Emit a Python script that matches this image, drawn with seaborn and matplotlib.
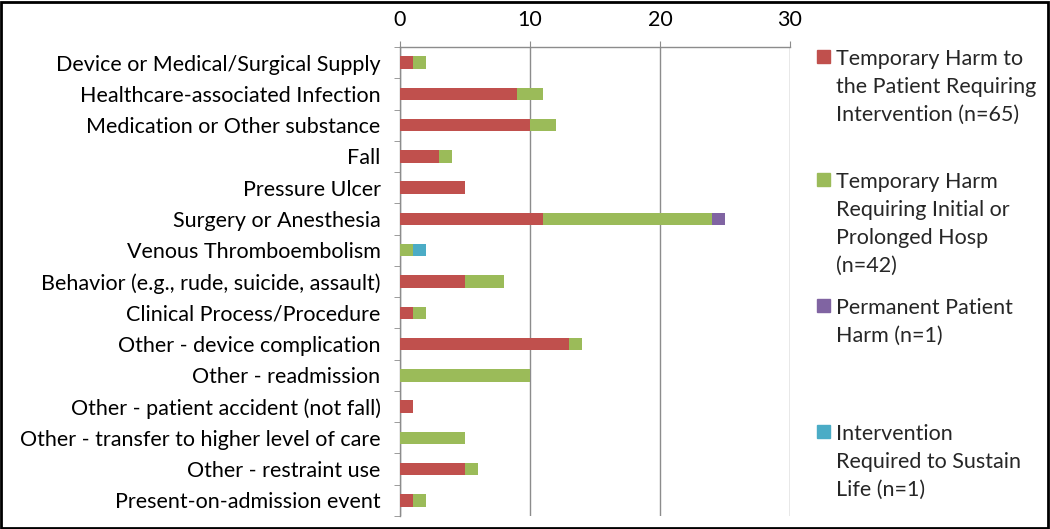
import pandas as pd
import matplotlib.pyplot as plt
from matplotlib.patches import Rectangle
import seaborn as sns

# -----------------------
# Data
# -----------------------
categories = [
    "Device or Medical/Surgical Supply",
    "Healthcare-associated Infection",
    "Medication or Other substance",
    "Fall",
    "Pressure Ulcer",
    "Surgery or Anesthesia",
    "Venous Thromboembolism",
    "Behavior (e.g., rude, suicide, assault)",
    "Clinical Process/Procedure",
    "Other - device complication",
    "Other - readmission",
    "Other - patient accident (not fall)",
    "Other - transfer to higher level of care",
    "Other - restraint use",
    "Present-on-admission event",
]
temp_intervention = [1, 9, 10, 3, 5, 11, 0, 5, 1, 13, 0, 1, 0, 5, 1]
temp_hosp = [1, 2, 2, 1, 0, 13, 1, 3, 1, 1, 10, 0, 5, 1, 1]
permanent = [0, 0, 0, 0, 0, 1, 0, 0, 0, 0, 0, 0, 0, 0, 0]
sustain_life = [0, 0, 0, 0, 0, 0, 1, 0, 0, 0, 0, 0, 0, 0, 0]

series_labels = [
    "Temporary Harm to\nthe Patient Requiring\nIntervention (n=65)",
    "Temporary Harm\nRequiring Initial or\nProlonged Hosp\n(n=42)",
    "Permanent Patient\nHarm (n=1)",
    "Intervention\nRequired to Sustain\nLife (n=1)",
]
colors = ["#C0504D", "#9BBB59", "#8064A2", "#4BACC6"]
xticks = [0, 10, 20, 30]

df = pd.DataFrame({
    "category": categories,
    "red": temp_intervention,
    "green": temp_hosp,
    "purple": permanent,
    "teal": sustain_life,
})
# cumulative totals for stacking (draw largest first, overlay smaller)
df["c1"] = df["red"]
df["c2"] = df["c1"] + df["green"]
df["c3"] = df["c2"] + df["purple"]
df["c4"] = df["c3"] + df["teal"]

sns.set_style("white")
plt.rcParams["font.family"] = ["Lato", "DejaVu Sans"]
FS = 15.5

W, H = 1050, 529
fig = plt.figure(figsize=(W / 100, H / 100), dpi=100)
ax = fig.add_axes([400 / W, 1 - 516 / H, 390 / W, (516 - 47) / H])

for col, c in zip(["c4", "c3", "c2", "c1"], colors[::-1]):
    sns.barplot(data=df, x=col, y="category", orient="h", color=c,
                saturation=1, width=0.4, linewidth=0, ax=ax, zorder=3)

ax.set_xlabel("")
ax.set_ylabel("")
ax.set_xlim(0, 30)
ax.set_ylim(len(categories) - 0.5, -0.5)
ax.xaxis.tick_top()
ax.set_xticks(xticks)
ax.set_xticklabels([str(t) for t in xticks])
ax.grid(axis="x", color="#8C8C8C", lw=1, zorder=0)
ax.grid(axis="y", visible=False)
ax.set_axisbelow(True)

for s in ["right", "bottom"]:
    ax.spines[s].set_visible(False)
for s in ["left", "top"]:
    ax.spines[s].set_color("#8C8C8C")
    ax.spines[s].set_linewidth(1)

ax.tick_params(axis="x", top=True, length=4, color="#8C8C8C", pad=8,
               labelsize=FS, labelcolor="black")
ax.set_yticks(range(len(categories)), minor=False)
ax.set_yticks([i - 0.5 for i in range(len(categories) + 1)], minor=True)
ax.tick_params(axis="y", which="major", length=0, pad=14, labelsize=FS,
               labelcolor="black")
ax.tick_params(axis="y", which="minor", left=True, length=4, color="#8C8C8C")

# legend, placed like the original
legend_y = [57, 180, 306, 432]
for lab, c, y in zip(series_labels, colors, legend_y):
    fig.patches.append(Rectangle((817 / W, 1 - (y + 6) / H), 13 / W, 13 / H,
                                 transform=fig.transFigure, color=c))
    fig.text(836 / W, 1 - (y - 8) / H, lab, fontsize=FS, va="top",
             ha="left", linespacing=1.49)

# outer frame
fig.patches.append(Rectangle((0.001, 0.002), 0.997, 0.995, transform=fig.transFigure,
                             fill=False, edgecolor="black", lw=2))

fig.savefig("out.png", dpi=100)
